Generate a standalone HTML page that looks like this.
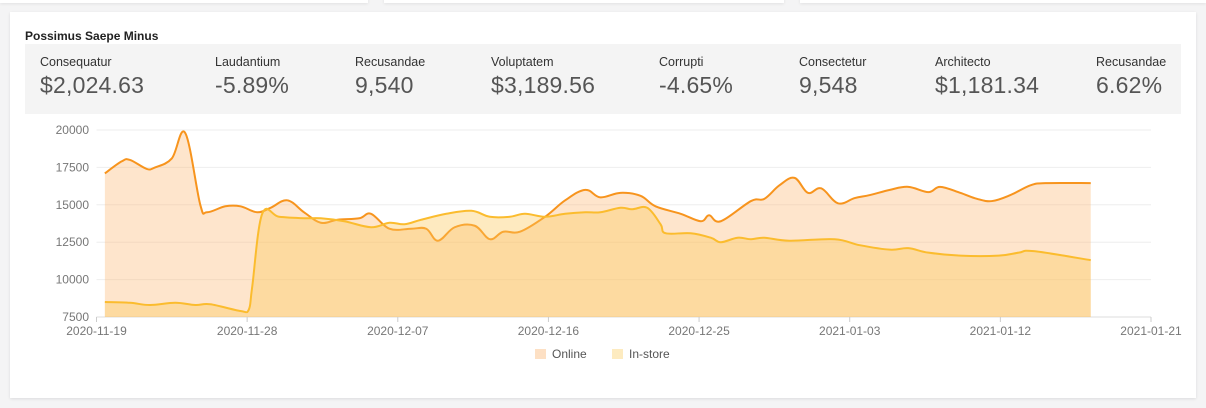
<!DOCTYPE html>
<html><head><meta charset="utf-8"><style>
body{margin:0;width:1206px;height:408px;background:#f4f4f5;font-family:"Liberation Sans",sans-serif;position:relative;overflow:hidden}
.top{position:absolute;top:-6px;height:9px;background:#fff;box-shadow:0 1px 3px rgba(0,0,0,.08)}
.card{position:absolute;left:10px;top:12px;width:1186px;height:386px;background:#fff;box-shadow:0 1px 3px rgba(0,0,0,.1)}
.title{position:absolute;left:15px;top:17px;font-size:12px;font-weight:bold;color:#222}
.band{position:absolute;left:15px;top:32px;width:1156px;height:70px;background:#f4f4f4}
.st{position:absolute;top:11px}
.st .l{font-size:12.5px;color:#333}
.st .v{font-size:23px;color:#555;margin-top:3px;font-weight:300;letter-spacing:0.2px}
svg{position:absolute;left:0;top:0}
</style></head><body>
<div class="top" style="left:0;width:368px"></div>
<div class="top" style="left:384px;width:400px"></div>
<div class="top" style="left:800px;width:406px"></div>
<div class="card">
<div class="title">Possimus Saepe Minus</div>
<div class="band">
<div class="st" style="left:15px"><div class="l">Consequatur</div><div class="v">$2,024.63</div></div>
<div class="st" style="left:190px"><div class="l">Laudantium</div><div class="v">-5.89%</div></div>
<div class="st" style="left:330px"><div class="l">Recusandae</div><div class="v">9,540</div></div>
<div class="st" style="left:466px"><div class="l">Voluptatem</div><div class="v">$3,189.56</div></div>
<div class="st" style="left:634px"><div class="l">Corrupti</div><div class="v">-4.65%</div></div>
<div class="st" style="left:774px"><div class="l">Consectetur</div><div class="v">9,548</div></div>
<div class="st" style="left:910px"><div class="l">Architecto</div><div class="v">$1,181.34</div></div>
<div class="st" style="left:1071px"><div class="l">Recusandae</div><div class="v">6.62%</div></div>
</div>
</div>
<svg id="chart" width="1206" height="408"></svg>
<script>
const yTicks=[7500,10000,12500,15000,17500,20000];
const xTickLabels=["2020-11-19","2020-11-28","2020-12-07","2020-12-16","2020-12-25","2021-01-03","2021-01-12","2021-01-21"];
const onlineDays=[0.5,1.5,2.0,3.0,3.5,4.5,5.3,6.2,6.6,7.7,8.6,9.6,10.4,11.4,12.4,13.4,14.4,15.7,16.4,17.5,18.8,19.7,20.4,21.4,22.6,23.5,24.3,25.3,26.8,28.0,29.2,30.1,31.3,32.5,33.4,34.9,36.1,36.6,37.3,39.1,39.9,40.8,41.7,42.5,43.3,44.3,45.3,46.2,47.4,48.5,49.7,50.4,51.6,52.6,53.5,54.6,55.8,56.7,59.4];
const onlineVals=[17100,17900,18000,17400,17500,18100,19800,15000,14500,14900,14900,14500,14800,15300,14500,13800,14000,14100,14400,13400,13400,13400,12600,13500,13600,12700,13200,13200,14200,15300,16000,15500,15800,15600,14900,14400,13900,14300,13900,15250,15400,16300,16800,15800,16100,15100,15450,15650,16000,16200,15850,16200,15800,15400,15250,15650,16300,16450,16450];
const storeDays=[0.5,2.0,3.2,4.7,5.9,6.8,8.6,9.1,9.3,9.9,10.9,12.4,13.4,14.8,16.4,17.5,18.4,19.4,20.9,22.4,23.5,24.7,25.6,26.8,28.0,29.2,30.1,31.3,32.0,32.9,33.7,34.0,35.5,36.7,37.3,38.3,39.1,39.9,41.4,44.1,45.6,47.4,48.5,49.7,51.6,53.9,55.1,56.0,59.4];
const storeVals=[8500,8450,8300,8450,8300,8350,7900,8000,9500,14400,14200,14100,14100,13900,13500,13800,13700,14000,14400,14600,14200,14200,14400,14200,14400,14500,14500,14800,14700,14800,13700,13100,13100,12800,12500,12800,12700,12800,12600,12700,12300,12000,12100,11800,11600,11600,11800,11900,11300];
const svg=document.getElementById('chart');const NS='http://www.w3.org/2000/svg';
const X0=96.5,X1=1151,Y0=317,Y1=130;
const xs=d=>X0+(X1-X0)*d/63;
const ys=v=>Y0-(Y0-Y1)*(v-7500)/12500;
function mk(t,a){const e=document.createElementNS(NS,t);for(const k in a)e.setAttribute(k,a[k]);svg.appendChild(e);return e;}
yTicks.forEach(v=>{
const g=mk('line',{x1:X0,x2:X1,y1:ys(v),y2:ys(v),stroke:v==7500?'#ddd':'#eee'});


const t=mk('text',{x:89,y:ys(v)+4,'text-anchor':'end','font-size':12,fill:'#777','font-family':'Liberation Sans'});t.textContent=v;


});
xTickLabels.forEach((s,i)=>{const x=xs(i*9);
const l=mk('line',{x1:x,x2:x,y1:Y0,y2:Y0+5,stroke:'#ccc'});


const t=mk('text',{x:x,y:335,'text-anchor':'middle','font-size':12,fill:'#777','font-family':'Liberation Sans'});t.textContent=s;


});
function path(days,vals){const p=days.map((d,i)=>[xs(d),ys(vals[i])]);let s='M'+p[0][0]+','+p[0][1];
for(let i=0;i<p.length-1;i++){const a=p[Math.max(0,i-1)],b=p[i],c=p[i+1],d=p[Math.min(p.length-1,i+2)];const k=0.18;
s+=`C${b[0]+(c[0]-a[0])*k},${b[1]+(c[1]-a[1])*k} ${c[0]-(d[0]-b[0])*k},${c[1]-(d[1]-b[1])*k} ${c[0]},${c[1]}`;}
return {s,first:p[0][0],last:p[p.length-1][0]};}
[[onlineDays,onlineVals,'#f7941d','rgba(253,180,110,0.35)','online'],[storeDays,storeVals,'#fbbc2e','rgba(252,200,90,0.38)','in-store']].forEach(([d,v,c,f,n])=>{
const r=path(d,v);
const a=mk('path',{d:r.s+`L${r.last},${Y0}L${r.first},${Y0}Z`,fill:f});


const l=mk('path',{d:r.s,fill:'none',stroke:c,'stroke-width':2});


});
[['Online',535,'#fde0c4'],['In-store',612,'#fdebc0']].forEach(([s,x,c])=>{
const r=mk('rect',{x:x,y:349,width:11,height:10,fill:c});


const t=mk('text',{x:x+17,y:358,'font-size':12,fill:'#555','font-family':'Liberation Sans'});t.textContent=s;


});
</script>
</body></html>
